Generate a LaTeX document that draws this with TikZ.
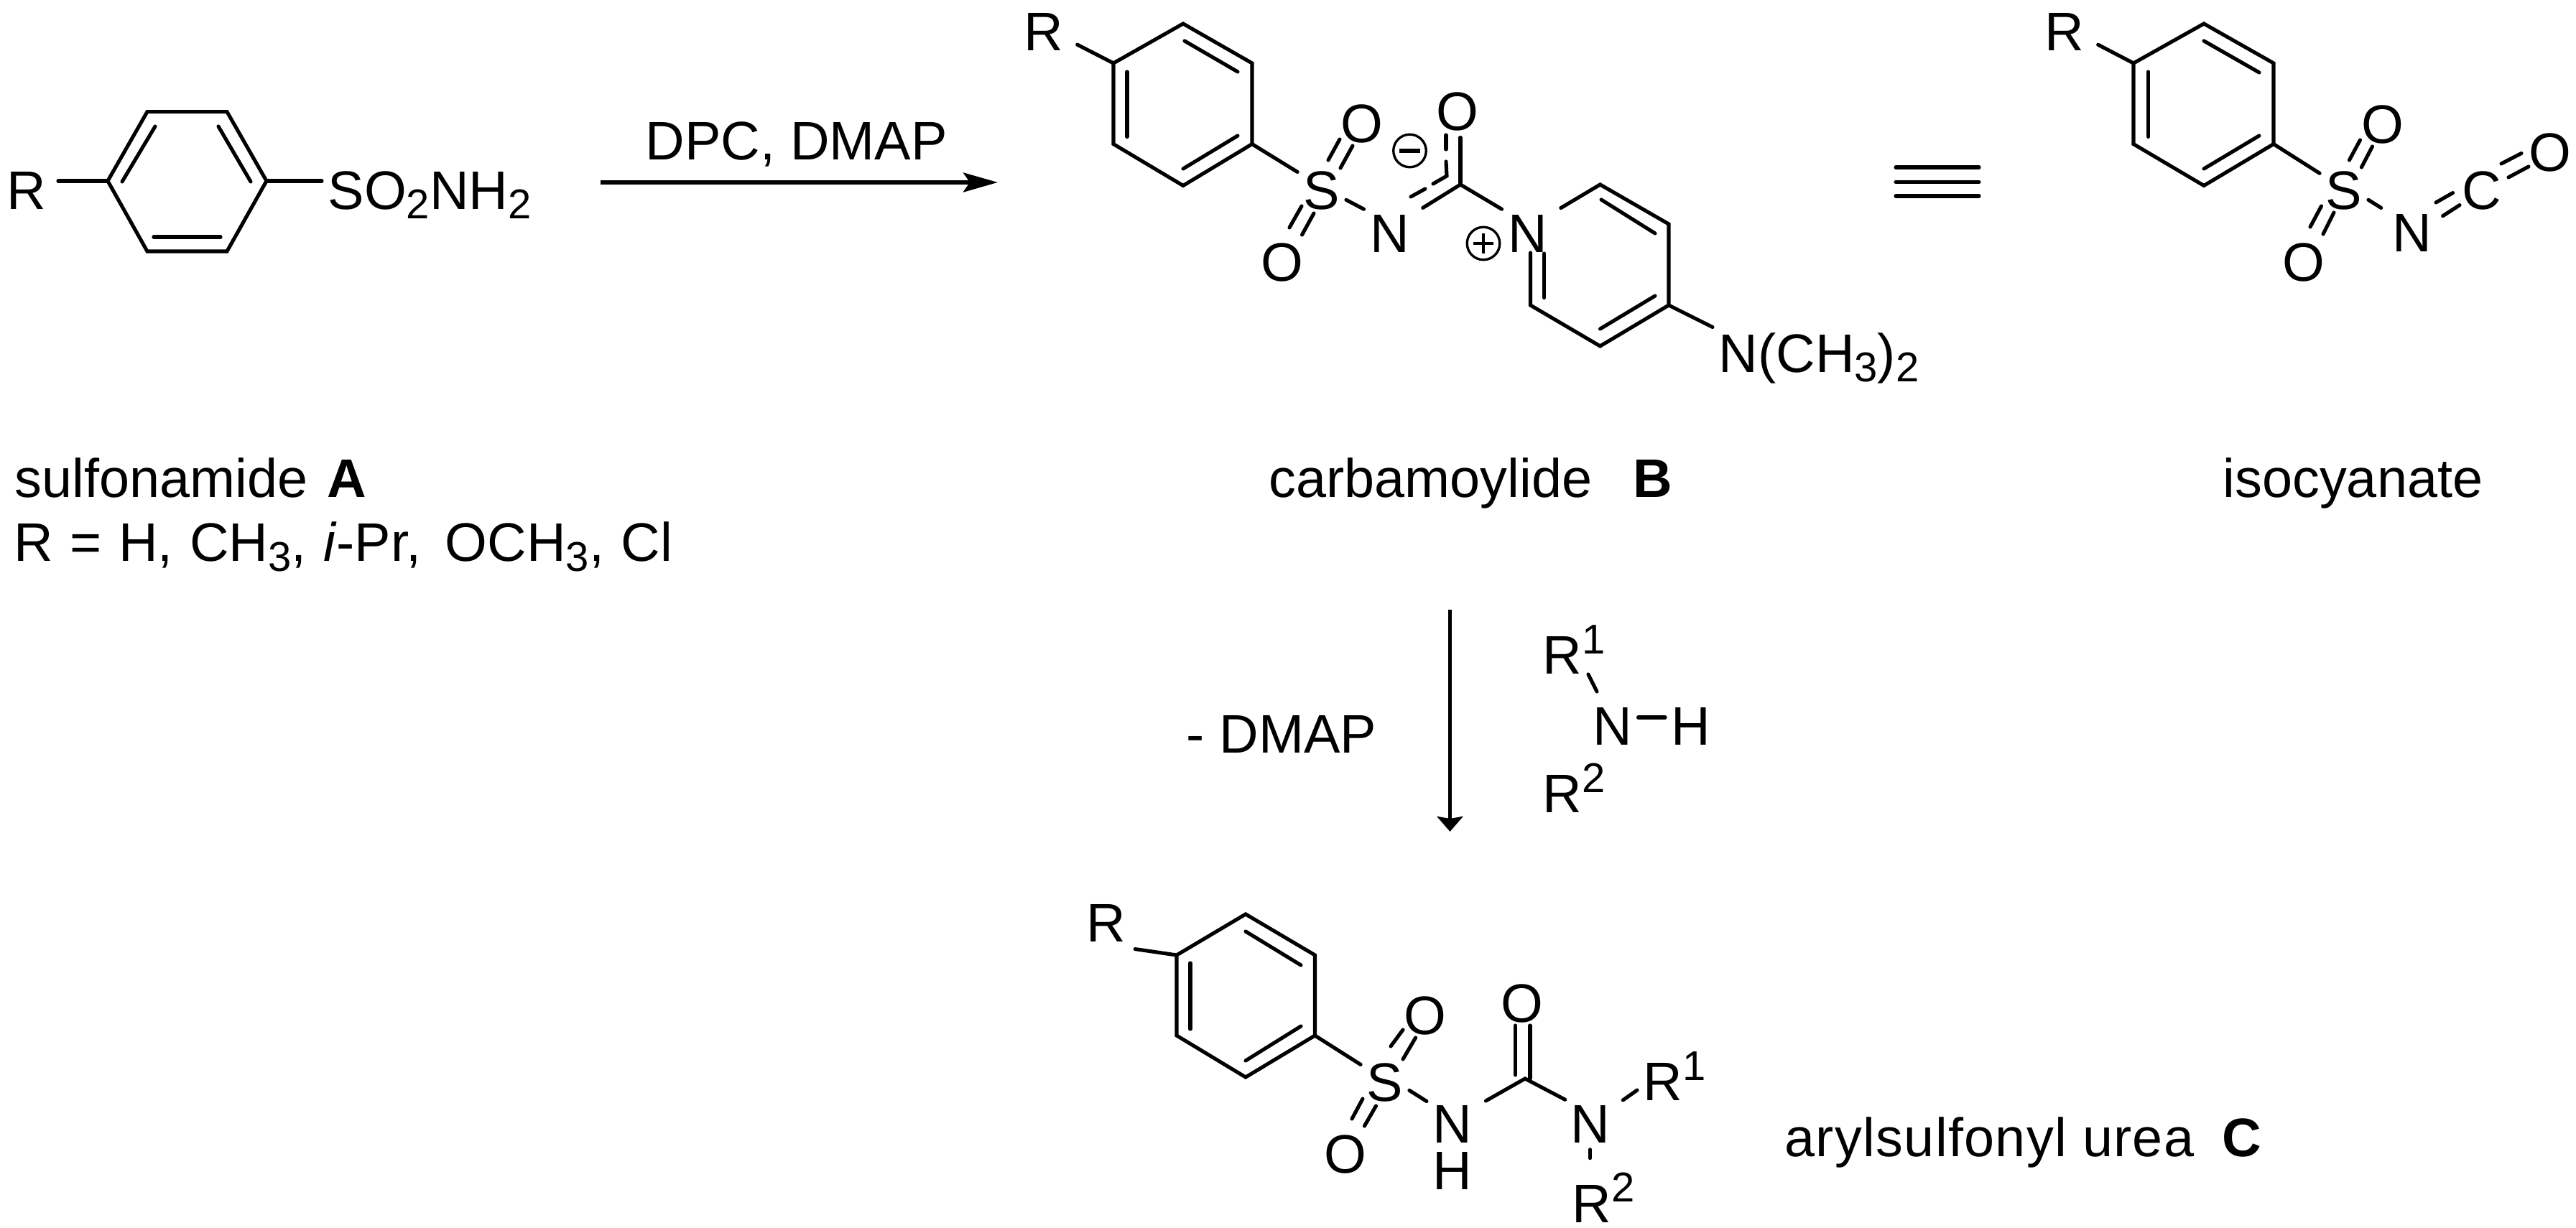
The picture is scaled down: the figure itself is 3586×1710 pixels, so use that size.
\documentclass[tikz,border=0pt]{standalone}
\usepackage{fontspec}
\setmainfont{Liberation Sans}
\usetikzlibrary{arrows.meta, positioning, calc}
\newcommand{\chemsub}[1]{\raisebox{-0.13cm}{\fontsize{16.5}{18}\selectfont #1}}
\newcommand{\chemsup}[1]{\raisebox{0.28cm}{\fontsize{16.5}{18}\selectfont #1}}
\tikzset{
  bond/.style={line width=1.45pt, line cap=round},
  atom/.style={inner sep=0.08cm, anchor=base, font=\fontsize{21.5}{26}\selectfont},
  chemlabel/.style={inner sep=0pt, anchor=base west, font=\fontsize{21.5}{26}\selectfont},
  charge/.style={circle, draw, line width=0.95pt, inner sep=0pt, minimum size=0.455cm},
  rxnright/.style={line width=1.45pt, -{Stealth[length=0.48cm, width=0.27cm, inset=0.09cm]}},
  rxndown/.style={line width=1.45pt, -{Stealth[length=0.21cm, width=0.36cm, inset=0.03cm]}}
}

\begin{document}
\begin{tikzpicture}[x=0.01cm, y=-0.01cm]
  \useasboundingbox (0,0) rectangle (3586,1710);

  \node[atom] (ra) at (37,292) {R};
  \node[atom, anchor=base west] (sulfa) at (448,292) {SO\chemsub{2}NH\chemsub{2}};
  \draw[bond] (150,252) coordinate (aL) -- (205,155.6) coordinate (aTL) -- (316,155.6) coordinate (aTR)
    -- (371,252) coordinate (aR) -- (316,350) coordinate (aBR) -- (205,350) coordinate (aBL) -- cycle;
  \draw[bond] (216,176) -- (170,253);
  \draw[bond] (304,176) -- (349,253);
  \draw[bond] (214,330) -- (307,330);
  \draw[bond, shorten <=0.08cm] (aL -| ra.east) -- (aL);
  \draw[bond] (aR) -- (aR -| sulfa.west);
  \node[chemlabel] (lblA) at (20,693) {sulfonamide\hspace{0.27cm}\textbf{A}};
  \node[chemlabel] (lblR) at (19,782) {\spaceskip=0.31em R = H, CH\chemsub{3}, \textit{i}-Pr,\hspace{0.1cm} OCH\chemsub{3}, Cl};

  \coordinate (dpcstart) at (836,254);
  \coordinate (dpcend) at (1389,254);
  \draw[rxnright] (dpcstart) -- (dpcend);
  \node[chemlabel] (dpc) at (898,223) {DPC, DMAP};

  \node[atom] (rb) at (1453,71) {R};
  \node[atom] (sb) at (1840,292) {S};
  \node[atom] (obu) at (1896,199) {O};
  \node[atom] (obd) at (1785,392) {O};
  \node[atom] (nm) at (1934.5,352) {N};
  \node[atom] (oc) at (2029,182) {O};
  \node[atom] (np) at (2126.5,352) {N};
  \node[atom, anchor=base west] (dma) at (2384,519) {N(CH\chemsub{3})\chemsub{2}};
  \draw[bond] (1550,88) coordinate (bTL) -- (1647,33) coordinate (bT) -- (1743,88) coordinate (bTR)
    -- (1743,200.6) coordinate (bBR) -- (1647,258.5) coordinate (bB) -- (1550,200.6) coordinate (bBL) -- cycle;
  \draw[bond] (1649,57) -- (1723,100);
  \draw[bond] (1569,100) -- (1569,190.5);
  \draw[bond] (1647,235) -- (1723,189);
  \draw[bond, shorten >=0.12cm] (bTL) -- (rb.-18);
  \draw[bond] (bBR) -- (sb.142);
  \draw[bond] (1849,223) -- (1865,194);
  \draw[bond] (1866,234) -- (1883,203);
  \draw[bond] (1795,317) -- (1812,287);
  \draw[bond] (1812.5,327) -- (1829,297);
  \draw[bond] (sb.-20) -- (nm.136);
  \coordinate (cb) at (2033,257);
  \draw[bond, shorten <=0.12cm] (nm.40) -- (cb);
  \draw[bond] (1964,274) -- (1984,263);
  \draw[bond] (1995,256) -- (2014,245) -- (2013,225);
  \draw[bond] (2013,208) -- (2013,188);
  \draw[bond] (cb) -- (cb |- oc.south);
  \draw[bond] (cb) -- (np.136);
  \draw[bond, shorten <=0.12cm] (np.40) -- (2227.5,257) coordinate (pT) -- (2323,312) coordinate (pTR)
    -- (2323,425) coordinate (pBR) -- (2227.5,482) coordinate (pB) -- (2130.5,425) coordinate (pBL) -- (pBL |- np.base);
  \draw[bond] (2149.6,353) -- (2149.6,414.6);
  \draw[bond] (2229,278) -- (2304,325);
  \draw[bond] (2227.5,458) -- (2304,412);
  \draw[bond] (pBR) -- (dma.north west);
  \node[charge] (chgm) at (1962.5,210) {};
  \draw[bond, line cap=butt] ([xshift=0.1cm]chgm.west) -- ([xshift=-0.1cm]chgm.east);
  \node[charge] (chgp) at (2065,339) {};
  \draw[bond, line cap=butt, line width=1pt] ([xshift=0.1cm]chgp.west) -- ([xshift=-0.1cm]chgp.east);
  \draw[bond, line cap=butt, line width=1pt] ([yshift=-0.1cm]chgp.north) -- ([yshift=0.1cm]chgp.south);
  \node[chemlabel] (lblB) at (1766,693) {carbamoylide\hspace{0.57cm}\textbf{B}};

  \draw[bond] (2639,233) -- (2755,233);
  \draw[bond] (2639,253.4) -- (2755,253.4);
  \draw[bond] (2639,273) -- (2755,273);

  \node[atom] (rd) at (2874,71) {R};
  \node[atom] (sd) at (3263,292) {S};
  \node[atom] (odu) at (3317,200) {O};
  \node[atom] (odd) at (3207,392) {O};
  \node[atom] (ni) at (3357.5,351) {N};
  \node[atom] (ci) at (3455,292) {C};
  \node[atom] (oi) at (3550,239) {O};
  \draw[bond] (2970,88) coordinate (dTL) -- (3068,33) coordinate (dT) -- (3165,88) coordinate (dTR)
    -- (3165,200.6) coordinate (dBR) -- (3068,258.5) coordinate (dB) -- (2970,200.6) coordinate (dBL) -- cycle;
  \draw[bond] (3068,57) -- (3145,101);
  \draw[bond] (2990.6,100) -- (2990.6,190.5);
  \draw[bond] (3068,235) -- (3145,189);
  \draw[bond, shorten >=0.12cm] (dTL) -- (rd.-18);
  \draw[bond] (dBR) -- (sd.144);
  \draw[bond] (3270.4,223) -- (3285.5,195);
  \draw[bond] (3287.4,233) -- (3302.5,204);
  \draw[bond] (3216,316) -- (3231.5,287);
  \draw[bond] (3234,326) -- (3249,296);
  \draw[bond, shorten >=0.08cm] (sd.-20) -- (ni.139);
  \draw[bond] (3391,282) -- (3414.5,268.6);
  \draw[bond] (3400.6,300.7) -- (3424,285.6);
  \draw[bond] (3482,228) -- (3510,213.5);
  \draw[bond] (3492,247) -- (3520,232);
  \node[chemlabel] (lblI) at (3094,693) {isocyanate};

  \coordinate (dmapstart) at (2018.5,849);
  \coordinate (dmapend) at (2018.5,1158);
  \draw[rxndown] (dmapstart) -- (dmapend);
  \node[chemlabel] (dmap) at (1651,1049) {- DMAP};
  \node[atom, anchor=base west] (rn1) at (2139,939) {R\chemsup{1}};
  \node[atom, anchor=base west] (rn2) at (2139,1132) {R\chemsup{2}};
  \node[atom] (na) at (2244.5,1038) {N};
  \node[atom] (hn) at (2354,1038) {H};
  \draw[bond] (2211,939) -- (2223,963);
  \draw[bond] ([yshift=0.13cm]na.east) -- ([yshift=0.13cm]hn.west);

  \node[atom] (rc) at (1539.5,1312) {R};
  \node[atom] (sc) at (1928,1534) {S};
  \node[atom] (ocu) at (1984,1441) {O};
  \node[atom] (ocd) at (1873,1633) {O};
  \node[atom] (nh) at (2022,1592) {N};
  \node[atom, inner sep=0pt] (hc) at (2022,1656) {H};
  \node[atom] (ou) at (2119,1424) {O};
  \node[atom] (nr) at (2213.5,1592) {N};
  \node[atom, anchor=base west] (rc1) at (2279,1533) {R\chemsup{1}};
  \node[atom, anchor=base west, inner sep=0pt] (rc2) at (2188,1702) {R\chemsup{2}};
  \draw[bond] (1638,1330) coordinate (cTL) -- (1734,1273) coordinate (cT) -- (1830.5,1330) coordinate (cTR)
    -- (1830.5,1442) coordinate (cBR) -- (1734,1500) coordinate (cB) -- (1638,1442) coordinate (cBL) -- cycle;
  \draw[bond] (1734,1297) -- (1811,1344);
  \draw[bond] (1657,1341) -- (1657,1433);
  \draw[bond] (1734,1477) -- (1811,1429);
  \draw[bond, shorten >=0.06cm] (cTL) -- (rc.-45);
  \draw[bond] (cBR) -- (sc.143);
  \draw[bond] (1936,1457) -- (1953,1434);
  \draw[bond] (1953,1475) -- (1970.6,1445);
  \draw[bond] (1882,1558) -- (1897,1530);
  \draw[bond] (1899.4,1568) -- (1915.5,1540);
  \draw[bond] (sc.-17) -- (nh.138);
  \coordinate (cc) at (2123,1502);
  \draw[bond, shorten <=0.12cm] (nh.37) -- (cc) -- (nr.135);
  \draw[bond] (2109.5,1428) -- (2109.5,1497);
  \draw[bond] (2130,1428) -- (2130,1502);
  \draw[bond, shorten <=0.12cm] (nr.37) -- ([yshift=-0.19cm]rc1.west);
  \draw[bond, shorten >=0.2cm] (nr.south) -- (nr |- rc2.north);
  \node[chemlabel] (lblC) at (2484,1610) {\addfontfeatures{LetterSpace=1.7}arylsulfonyl urea\hspace{0.38cm}\textbf{C}};
\end{tikzpicture}
\end{document}
